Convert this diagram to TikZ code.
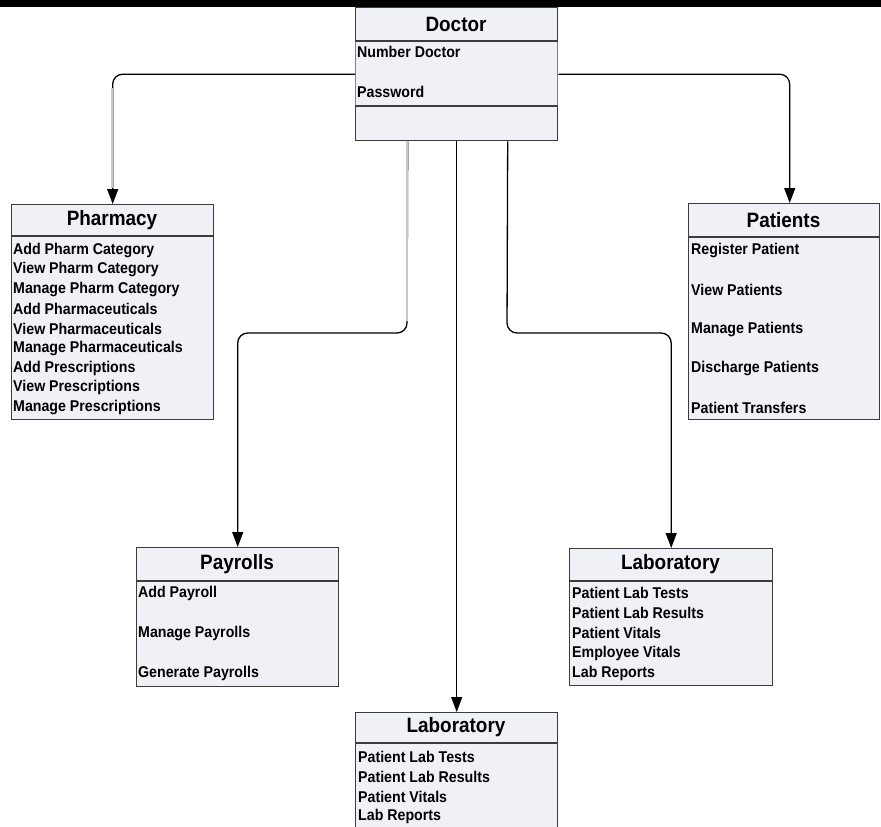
\documentclass[tikz,border=0pt]{standalone}
\usepackage{fontspec}
\setmainfont{Liberation Sans}
\newfontfamily\narrowfont[FakeStretch=0.91]{Liberation Sans}
\usetikzlibrary{arrows.meta}
\definecolor{boxfill}{RGB}{240,241,246}
\definecolor{boxline}{RGB}{60,60,60}
\definecolor{conngray}{RGB}{200,200,200}
\definecolor{sidered}{RGB}{225,90,90}
\tikzset{
  umlbox/.style={draw=boxline, line width=1.4pt, fill=boxfill, inner sep=0pt, anchor=north west},
  ttl/.style={font=\narrowfont\fontsize{20.8}{22}\selectfont\bfseries, inner sep=0pt},
  itm/.style={font=\narrowfont\fontsize{15.6}{17}\selectfont\bfseries, anchor=west, inner sep=0pt},
  divline/.style={draw=boxline, line width=1.4pt},
  conn/.style={draw=black, line width=1.3pt, rounded corners=10pt, -{Triangle[length=15pt,width=11pt]}},
  grayseg/.style={draw=conngray, line width=1.3pt},
}
\begin{document}
\begin{tikzpicture}[x=1pt,y=-1pt]
\useasboundingbox (0,0) rectangle (881,827);
\clip (0,0) rectangle (881,827);
\fill[white] (0,0) rectangle (881,827);
\fill[black] (0,0) rectangle (881,7);

% ---- boxes ----
\node[umlbox, minimum width=202pt, minimum height=133pt] (doc) at (355,7) {};
\node[umlbox, minimum width=202pt, minimum height=215pt] (pharm) at (11,204) {};
\node[umlbox, minimum width=191pt, minimum height=216pt] (pat) at (688,203) {};
\node[umlbox, minimum width=202pt, minimum height=139pt] (pay) at (136,547) {};
\node[umlbox, minimum width=203pt, minimum height=137pt] (labR) at (569,548) {};
\node[umlbox, minimum width=202pt, minimum height=140pt] (labB) at (355,712) {};

% ---- Doctor ----
\draw[divline] (355,41) -- (557,41);
\draw[divline] (355,106) -- (557,106);
\draw[sidered, line width=1pt] (355,42) -- (355,105);
\draw[sidered, line width=1pt] (557,42) -- (557,105);
\node[ttl] (docT) at (456,24) {Doctor};
\node[itm] (docA) at (357,52) {Number Doctor};
\node[itm] (docB) at (357,92) {Password};

% ---- Pharmacy ----
\draw[divline] (11,236) -- (213,236);
\node[ttl] (phT) at (112,220) {Pharmacy};
\node[itm] (ph1) at (13,250) {Add Pharm Category};
\node[itm] (ph2) at (13,269.7) {View Pharm Category};
\node[itm] (ph3) at (13,289.4) {Manage Pharm Category};
\node[itm] (ph4) at (13,309.1) {Add Pharmaceuticals};
\node[itm] (ph5) at (13,328.8) {View Pharmaceuticals};
\node[itm] (ph6) at (13,348.5) {Manage Pharmaceuticals};
\node[itm] (ph7) at (13,368.2) {Add Prescriptions};
\node[itm] (ph8) at (13,387.9) {View Prescriptions};
\node[itm] (ph9) at (13,407.6) {Manage Prescriptions};

% ---- Patients ----
\draw[divline] (688,237) -- (879,237);
\node[ttl] (paT) at (783.5,220) {Patients};
\node[itm] (pa1) at (691,250) {Register Patient};
\node[itm] (pa2) at (691,289.5) {View Patients};
\node[itm] (pa3) at (691,329) {Manage Patients};
\node[itm] (pa4) at (691,368.5) {Discharge Patients};
\node[itm] (pa5) at (691,408) {Patient Transfers};

% ---- Payrolls ----
\draw[divline] (136,581) -- (338,581);
\node[ttl] (pyT) at (237,564) {Payrolls};
\node[itm] (py1) at (138,593) {Add Payroll};
\node[itm] (py2) at (138,633) {Manage Payrolls};
\node[itm] (py3) at (138,673) {Generate Payrolls};

% ---- Laboratory (right) ----
\draw[divline] (569,581) -- (772,581);
\node[ttl] (lrT) at (670.5,564) {Laboratory};
\node[itm] (lr1) at (572,593) {Patient Lab Tests};
\node[itm] (lr2) at (572,613) {Patient Lab Results};
\node[itm] (lr3) at (572,633) {Patient Vitals};
\node[itm] (lr4) at (572,653) {Employee Vitals};
\node[itm] (lr5) at (572,673) {Lab Reports};

% ---- Laboratory (bottom) ----
\draw[divline] (355,743) -- (557,743);
\node[ttl] (lbT) at (456,727) {Laboratory};
\node[itm] (lb1) at (358,757) {Patient Lab Tests};
\node[itm] (lb2) at (358,777) {Patient Lab Results};
\node[itm] (lb3) at (358,797) {Patient Vitals};
\node[itm] (lb4) at (358,816) {Lab Reports};

% ---- connectors ----
\coordinate (d1) at ([xshift=-49pt]doc.south);
\coordinate (d3) at ([xshift=51pt]doc.south);
\coordinate (m1) at (407,333);
\coordinate (m3) at (507,333);
\coordinate (patIn) at ([xshift=5.5pt]pat.north);

\draw[conn] (doc.west) -| (pharm.north);
\draw[conn] (doc.east) -| (patIn);
\draw[conn] (d1) -- (m1) -| (pay.north);
\draw[conn] (doc.south) -- (labB.north);
\draw[conn] (d3) -- (m3) -| (labR.north);

% lighter segments of the two leftmost connectors
\draw[grayseg] (112,88) -- (112,188);
\draw[grayseg] (407,141) -- (407,321);
\end{tikzpicture}
\end{document}
